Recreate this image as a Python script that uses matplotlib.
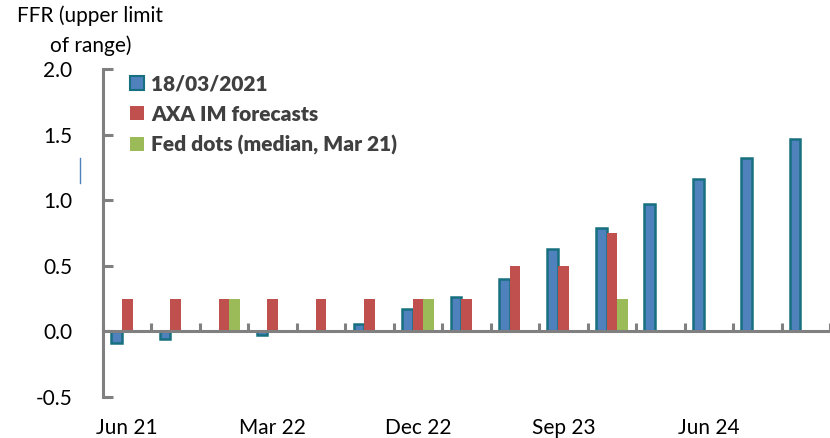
import matplotlib
matplotlib.use('Agg')
import numpy as np
import matplotlib.pyplot as plt
from matplotlib.patches import Patch
from matplotlib.lines import Line2D

# --- Data ---
quarters = ['Jun 21', 'Sep 21', 'Dec 21', 'Mar 22', 'Jun 22', 'Sep 22', 'Dec 22',
            'Mar 23', 'Jun 23', 'Sep 23', 'Dec 23', 'Mar 24', 'Jun 24', 'Sep 24', 'Dec 24']
market_1803 = [-0.09, -0.06, np.nan, -0.03, np.nan, 0.06, 0.17,
               0.26, 0.40, 0.63, 0.79, 0.97, 1.16, 1.32, 1.47]
axa_forecast = [0.25, 0.25, 0.25, 0.25, 0.25, 0.25, 0.25,
                0.25, 0.50, 0.50, 0.75, np.nan, np.nan, np.nan, np.nan]
fed_dots = [np.nan, np.nan, 0.25, np.nan, np.nan, np.nan, 0.25,
            np.nan, np.nan, np.nan, 0.25, np.nan, np.nan, np.nan, np.nan]
shown_labels = ['Jun 21', 'Mar 22', 'Dec 22', 'Sep 23', 'Jun 24']

# --- Style ---
BLUE, BLUE_EDGE = '#4F81BD', '#17707F'
RED, GREEN = '#C0504D', '#9BBB59'
GREY = '#808080'
FS = 15
plt.rcParams['font.family'] = ['Lato', 'DejaVu Sans']

fig = plt.figure(figsize=(8.3, 4.38), dpi=100)
ax = fig.add_axes([103 / 830, 1 - 397 / 438, 727 / 830, 328 / 438])

x = np.arange(len(quarters))
w = 0.22
ax.bar(x - w, market_1803, w, color=BLUE, edgecolor=BLUE_EDGE, linewidth=1.8,
       label='18/03/2021')
ax.bar(x, axa_forecast, w, color=RED, label='AXA IM forecasts')
ax.bar(x + w, fed_dots, w, color=GREEN, label='Fed dots (median, Mar 21)')

ax.set_xlim(-0.5, len(quarters) - 0.5)
ax.set_ylim(-0.5, 2.0)

for s in ['top', 'right']:
    ax.spines[s].set_visible(False)
ax.spines['left'].set_color(GREY)
ax.spines['left'].set_linewidth(2.2)
ax.spines['bottom'].set_color(GREY)
ax.spines['bottom'].set_linewidth(2.2)
ax.spines['bottom'].set_position(('data', 0))

ax.set_yticks([-0.5, 0.0, 0.5, 1.0, 1.5, 2.0])
ax.set_yticklabels(['-0.5', '0.0', '0.5', '1.0', '1.5', '2.0'])
ax.tick_params(axis='y', direction='in', length=7, width=2.2, color=GREY,
               labelsize=FS, pad=22)
ax.set_xticks(np.arange(-0.5, len(quarters), 1.0))
ax.set_xticklabels([])
ax.tick_params(axis='x', direction='in', length=6, width=2.2, color=GREY)

# quarter labels at the bottom of the chart
for lab in shown_labels:
    ax.text(quarters.index(lab), -0.095, lab, transform=ax.get_xaxis_transform(),
            ha='center', va='center', fontsize=FS)

fig.text(17 / 830, 1 - 16 / 438, 'FFR (upper limit', ha='left', va='center', fontsize=FS)
fig.text(50 / 830, 1 - 46 / 438, 'of range)', ha='left', va='center', fontsize=FS)

# stray marker line left of the axis
fig.add_artist(Line2D([80 / 830, 80 / 830], [1 - 158 / 438, 1 - 183 / 438],
                      color=BLUE, linewidth=1))

handles = [Patch(facecolor=BLUE, edgecolor=BLUE_EDGE, linewidth=1.5),
           Patch(facecolor=RED), Patch(facecolor=GREEN)]
leg = ax.legend(handles, ['18/03/2021', 'AXA IM forecasts', 'Fed dots (median, Mar 21)'],
                loc='upper left', bbox_to_anchor=(0.02, 1.022), frameon=False,
                prop={'weight': 'heavy', 'size': FS}, handlelength=0.65, handleheight=0.65,
                handletextpad=0.35, labelspacing=0.55, borderaxespad=0.2)
for t in leg.get_texts():
    t.set_color('#404040')

fig.savefig('out.png', dpi=100)
